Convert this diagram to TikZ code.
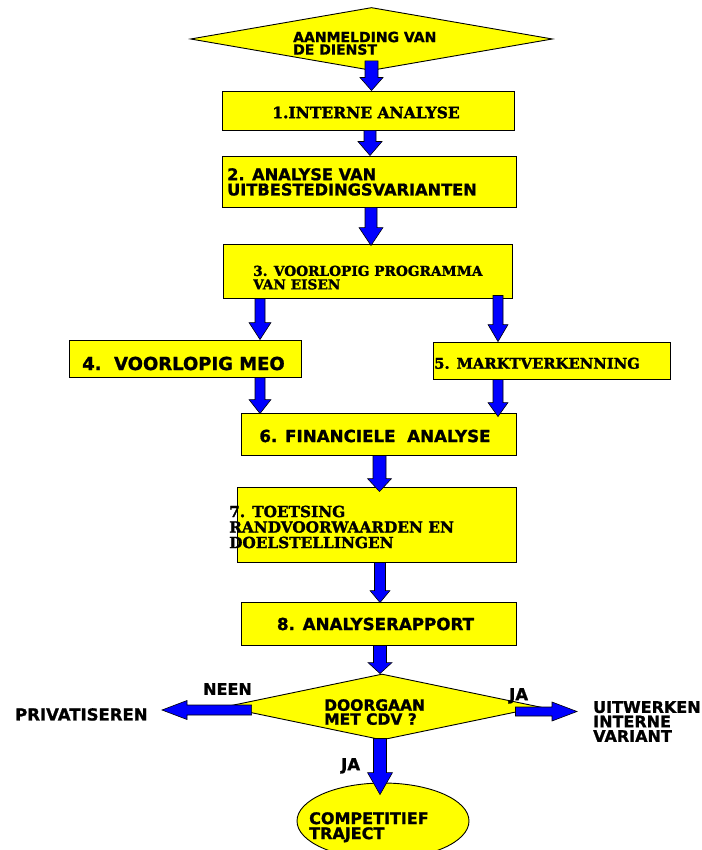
\documentclass[tikz,border=0pt]{standalone}
\usepackage{fontspec}
\usetikzlibrary{calc,shapes.geometric}
\newfontfamily\sansheavy[FakeBold=1.2]{DejaVu Sans Bold}
\newfontfamily\serifheavy[FakeBold=1.6]{DejaVu Serif Bold}
\definecolor{boxyellow}{RGB}{255,255,0}
\definecolor{arrowblue}{RGB}{0,0,255}

\tikzset{
  arrow shaft/.store in=\arrShaft,
  arrow head/.store in=\arrHead,
  arrow head length/.store in=\arrHeadLen,
  arrow shaft=6pt, arrow head=12pt, arrow head length=14pt,
  % filled block arrow from the start point to the target point
  blockarrow/.style={fill=arrowblue, draw=black, line width=0.6pt, line join=miter,
    to path={let \p1=(\tikztostart), \p2=(\tikztotarget),
      \p3=($(\tikztotarget)!\arrHeadLen!(\tikztostart)$),
      \n1={atan2(\y2-\y1,\x2-\x1)}, \n3={\n1+90}, \n4={\n1-90} in
      ($(\p1)+(\n3:\arrShaft)$) -- ($(\p3)+(\n3:\arrShaft)$)
      -- ($(\p3)+(\n3:\arrHead)$) -- (\p2)
      -- ($(\p3)+(\n4:\arrHead)$) -- ($(\p3)+(\n4:\arrShaft)$)
      -- ($(\p1)+(\n4:\arrShaft)$) -- cycle}},
  stepbox/.style={rectangle, fill=boxyellow, draw=black, line width=0.9pt, inner sep=0pt},
  decision/.style={diamond, fill=boxyellow, draw=black, line width=0.9pt, inner sep=0pt},
  endpoint/.style={ellipse, fill=boxyellow, draw=black, line width=0.9pt, inner sep=0pt},
  sanstext/.style 2 args={font=\sansheavy\fontsize{#1}{#2}\selectfont,
    inner sep=0pt, align=left, text=black},
  seriftext/.style 2 args={font=\serifheavy\fontsize{#1}{#2}\selectfont,
    inner sep=0pt, align=left, text=black},
}

\begin{document}
\begin{tikzpicture}[x=1pt, y=-1pt]
\path[use as bounding box, fill=white] (0,0) rectangle (701,850);

% shapes
\node[decision, minimum width=362, minimum height=63] (d0) at (371.5,39) {};
\node[stepbox, minimum width=292, minimum height=39] (b1) at (368,110.5) {};
\node[stepbox, minimum width=294, minimum height=51] (b2) at (369,181.5) {};
\node[stepbox, minimum width=289, minimum height=54] (b3) at (367.5,271) {};
\node[stepbox, minimum width=232, minimum height=37] (b4) at (185,358.5) {};
\node[stepbox, minimum width=237, minimum height=37] (b5) at (551.5,360.5) {};
\node[stepbox, minimum width=275, minimum height=42] (b6) at (378.5,434) {};
\node[stepbox, minimum width=279, minimum height=75] (b7) at (376.5,524.5) {};
\node[stepbox, minimum width=275, minimum height=43] (b8) at (378.5,623.5) {};
\node[decision, minimum width=316, minimum height=66] (d1) at (382,707) {};
\node[endpoint, minimum width=172, minimum height=76] (ce) at (383,821) {};

\coordinate (privtip) at (162,710);
\coordinate (uittip) at (577,711.5);

% connectors
\draw[blockarrow, arrow shaft=6.5pt, arrow head=11.5pt, arrow head length=13pt]
  ([yshift=10pt]d0.south) to (d0.south |- b1.north);
\draw[blockarrow] ([xshift=2pt]b1.south) to ([xshift=2pt]b1.south |- b2.north);
\draw[blockarrow, arrow head length=18pt]
  ([xshift=2pt]b2.south) to ([xshift=2pt,yshift=-2pt]b2.south |- b3.north);
\draw[blockarrow, arrow shaft=5pt, arrow head=11pt, arrow head length=17pt]
  ([xshift=-107.5pt]b3.south) to ([xshift=-107.5pt]b3.south |- b4.north);
\draw[blockarrow, arrow shaft=5pt, arrow head=10pt, arrow head length=17pt]
  ([xshift=130.5pt,yshift=3pt]b3.south) to ([xshift=130.5pt]b3.south |- b5.north);
\draw[blockarrow, arrow shaft=5pt, arrow head=11pt, arrow head length=14pt]
  ([xshift=75pt]b4.south) to ([xshift=75pt,yshift=-1pt]b4.south |- b6.north);
\draw[blockarrow, arrow shaft=5pt, arrow head=10pt, arrow head length=14pt]
  ([xshift=-53.5pt]b5.south) to ([xshift=-53.5pt,yshift=-4pt]b5.south |- b6.north);
\draw[blockarrow, arrow shaft=6.5pt, arrow head=12pt, arrow head length=13pt]
  ([xshift=1pt]b6.south) to ([xshift=1pt,yshift=-5pt]b6.south |- b7.north);
\draw[blockarrow, arrow shaft=5.5pt, arrow head=10pt, arrow head length=12pt]
  ([xshift=3.5pt]b7.south) to ([xshift=3.5pt,yshift=-1pt]b7.south |- b8.north);
\draw[blockarrow, arrow shaft=6.5pt, arrow head=12pt, arrow head length=11pt]
  ([xshift=1.5pt]b8.south) to ([xshift=1.5pt]b8.south |- d1.north);
\draw[blockarrow, arrow shaft=6.5pt, arrow head=12.5pt, arrow head length=22pt]
  ([xshift=-2pt,yshift=2pt]d1.south) to ([xshift=-2pt,yshift=-12pt]d1.south |- ce.north);
\draw[blockarrow, arrow shaft=5pt, arrow head=9.5pt, arrow head length=25pt]
  ([xshift=28pt,yshift=-3pt]d1.west) to (privtip);
\draw[blockarrow, arrow shaft=4.5pt, arrow head=9.5pt, arrow head length=25pt]
  ([xshift=-25pt,yshift=-4.5pt]d1.east) to (uittip);

% labels
\node[sanstext={14}{12.5}, anchor=north west] (t0) at (293,31.5) {AANMELDING VAN\\DE DIENST};
\node[seriftext={15.5}{15}] (t1) at (366,112.5) {1.INTERNE ANALYSE};
\node[sanstext={16.2}{15.2}, anchor=north west] (t2) at (227,168) {2. ANALYSE VAN\\UITBESTEDINGSVARIANTEN};
\node[seriftext={13.7}{13.5}, anchor=north west] (t3) at (253,265.5) {3. VOORLOPIG PROGRAMMA\\VAN EISEN};
\node[sanstext={18}{16}, anchor=north west] (t4) at (82,356.5) {4.\ \ VOORLOPIG MEO};
\node[seriftext={14.8}{14}, anchor=north west] (t5) at (434,357.5) {5. MARKTVERKENNING};
\node[sanstext={16.7}{16}] (t6) at (375,436) {6. FINANCIELE\ \ ANALYSE};
\node[seriftext={15.3}{15.5}, anchor=north west] (t7) at (229,505.5)
  {7. TOETSING\\RANDVOORWAARDEN EN\\DOELSTELLINGEN};
\node[sanstext={16.7}{16}] (t8) at (375.5,624) {8. ANALYSERAPPORT};
\node[sanstext={15.5}{14}, anchor=north west] (td) at (324,699) {DOORGAAN\\MET CDV ?};
\node[sanstext={16}{16}, anchor=north west] (tneen) at (203,683) {NEEN};
\node[sanstext={16.5}{16}, anchor=north west] (tpriv) at (15,708) {PRIVATISEREN};
\node[sanstext={16.5}{16}, anchor=north west] (tja1) at (509,688) {JA};
\node[sanstext={16}{14.5}, anchor=north west] (tuit) at (593,701) {UITWERKEN\\INTERNE\\VARIANT};
\node[sanstext={16.5}{16}, anchor=north west] (tja2) at (341,758) {JA};
\node[sanstext={16}{15}, anchor=north west] (tcomp) at (309,812) {COMPETITIEF\\TRAJECT};
\end{tikzpicture}
\end{document}
